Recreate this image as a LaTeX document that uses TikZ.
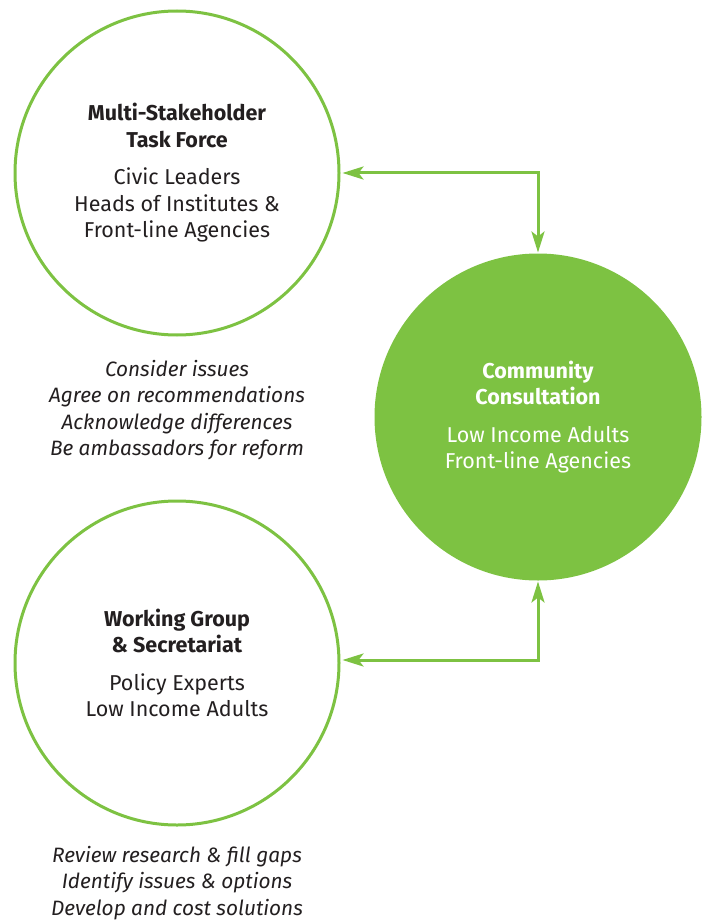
\documentclass[tikz,border=0pt]{standalone}
\usepackage{fontspec}
\setmainfont{Fira Sans}
\usepackage{tikz}
\usetikzlibrary{arrows.meta}
\definecolor{leaf}{RGB}{125,194,66}
\definecolor{ink}{RGB}{35,31,32}

\begin{document}
\begin{tikzpicture}[x=1pt,y=-1pt,>={Stealth[length=21pt,width=13pt,inset=5pt]},
  line width=3pt,
  ring/.style={circle,draw=leaf,fill=white,minimum size=324pt,inner sep=0pt,
    align=center,text=ink,font=\fontsize{21.5}{26.5}\selectfont},
  hub/.style={ring,fill=leaf,text=white},
  notes/.style={align=center,text=ink,font=\fontsize{20.8}{26.5}\selectfont\itshape}]

  \useasboundingbox (0,0) rectangle (704,920);

  \node[ring] (task) at (177,173) {\textbf{Multi-Stakeholder}\\\textbf{Task Force}\\[11pt]
    Civic Leaders\\Heads of Institutes \&\\Front-line Agencies};
  \node[hub] (comm) at (538,417) {\textbf{Community}\\\textbf{Consultation}\\[11pt]
    Low Income Adults\\Front-line Agencies};
  \node[ring] (work) at (177,663) {\textbf{Working Group}\\\textbf{\& Secretariat}\\[11pt]
    Policy Experts\\Low Income Adults};

  \node[notes] (tasknotes) at (177,410) {Consider issues\\Agree on recommendations\\
    Acknowledge differences\\Be ambassadors for reform};
  \node[notes] (worknotes) at (177,883) {Review research \& fill gaps\\
    Identify issues \& options\\Develop and cost solutions};

  \path[draw=leaf,<->,shorten <=2pt,shorten >=1pt]
    (task.east) -| (comm.north);
  \path[draw=leaf,<->,shorten <=2pt,shorten >=1pt]
    (work.east |- 0,660) -| (comm.south);
\end{tikzpicture}
\end{document}
